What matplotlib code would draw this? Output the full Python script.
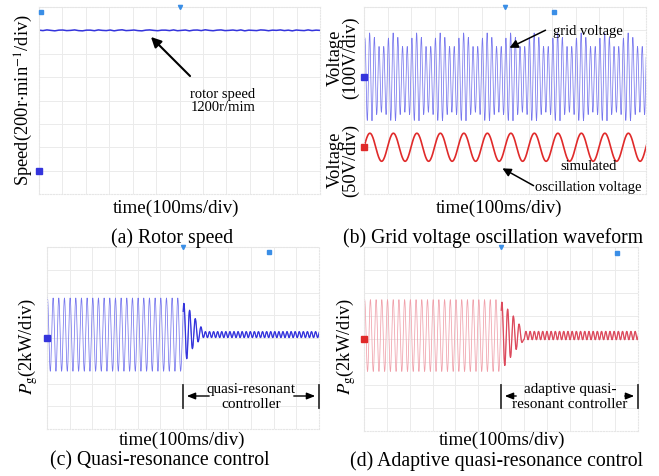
import matplotlib
matplotlib.use('Agg')
import matplotlib.pyplot as plt
import numpy as np

W, H = 659, 477

# ---- data, in oscilloscope divisions (12 x 8 screen) ----
# (a) rotor speed: level and ripple
speed_level = 7.0
speed_ripple = [0.01, -0.01, 0.02, 0.0, -0.02, 0.01, 0.015, -0.01, 0.0, 0.02,
                -0.01, -0.02, 0.01, 0.01, -0.015, 0.02, 0.0, -0.01, 0.015, -0.02,
                0.01, 0.025, -0.01, 0.0, 0.015, -0.01, -0.02, 0.01, 0.02, 0.0,
                -0.015, 0.01, 0.01, -0.01, 0.02, -0.015, 0.0, 0.015, -0.02, 0.01,
                0.015, -0.01, 0.025, 0.0, -0.015, 0.01, 0.02, -0.01, 0.0, 0.015,
                -0.01, 0.02, -0.02, 0.01, 0.0, -0.01, 0.02, 0.01, -0.015, 0.01,
                0.0, 0.02, -0.01, 0.01, -0.02, 0.015, 0.0, -0.01, 0.02, -0.01,
                0.01, 0.0]

# (b) grid voltage: peaks / troughs over one beat (repeats every division)
grid_center = 5.0
grid_peaks = [1.67, 1.89, 1.70, 1.31, 1.31]
grid_troughs = [-1.85, -1.85, -1.6, -1.5, -1.6]
grid_half = 0.1          # 50 Hz at 100 ms/div
grid_first = 0.04
# (b) simulated oscillation voltage
osc_center = 2.0
osc_amp = 0.6
osc_half = 0.5           # 10 Hz
osc_first = -0.25

# (c) quasi-resonant controller
qr_center = 4.15
qr_amp = 1.61
qr_half = 0.125
qr_first = 0.02
qr_switch = 6.04
qr_decay = [1.37, -1.06, 1.07, -0.62, 0.7, -0.32, 0.34]
qr_small_amp = 0.13
qr_small_half = 0.09
qr_small_start = 6.9

# (d) adaptive quasi-resonant controller
aqr_center = 4.15
aqr_amp = 1.56
aqr_half = 0.125
aqr_first = 0.03
aqr_switch = 6.04
aqr_decay = [1.45, -1.3, 1.15, -0.95, 0.85, -0.6, 0.5, -0.3]
aqr_small_amp = 0.18
aqr_small_half = 0.092
aqr_small_start = 7.0

BLUE = '#3434dc'
LBLUE = '#7777ee'
RED = '#e02a2a'
PINK = '#dc4a5c'

plt.rcParams['font.family'] = ['Liberation Serif', 'DejaVu Serif']
plt.rcParams['mathtext.fontset'] = 'stix'

FS_LAB = 13.7
FS_CAP = 14.2
FS_Y = 13.3


def wave(xpos, ext, center, n=10):
    """smooth trace through alternating extremes (half-cosine segments)"""
    xs, ys = [], []
    s = np.linspace(0, 1, n)
    for k in range(len(ext) - 1):
        a, b = ext[k], ext[k + 1]
        xs.append(xpos[k] + (xpos[k + 1] - xpos[k]) * s)
        ys.append(center + (a + b) / 2 + (a - b) / 2 * np.cos(np.pi * s))
    return np.concatenate(xs), np.concatenate(ys)


def fp(x, y):
    return x / W, 1 - y / H


def scope(l, t, r, b):
    ax = fig.add_axes([l / W, 1 - b / H, (r - l) / W, (b - t) / H])
    ax.set_xlim(0, 12)
    ax.set_ylim(0, 8)
    ax.set_xticks(range(13))
    ax.set_yticks(range(9))
    ax.grid(True, color='#ebebeb', lw=0.7)
    ax.set_axisbelow(True)
    ax.tick_params(length=0, labelbottom=False, labelleft=False)
    for sp in ax.spines.values():
        sp.set_color('#e6e6e6')
        sp.set_linestyle((0, (1, 1.5)))
        sp.set_linewidth(0.8)
    return ax


def marks(ax, gnd, color, dot):
    for y, c in zip(gnd, color):
        ax.plot(0, y, marker='s', ms=4, color=c, clip_on=False, zorder=5)
    ax.plot(6, 8, marker='v', ms=3, color='#3a8ee6', clip_on=False, zorder=5)
    ax.plot(dot[0], dot[1], marker='s', ms=3, color='#3a8ee6', clip_on=False, zorder=5)


fig = plt.figure(figsize=(W / 100, H / 100), dpi=100)

# ---------------- (a) ----------------
ax = scope(39, 8, 320, 195)
xs = np.linspace(0, 12, len(speed_ripple))
ax.plot(xs, speed_level + np.array(speed_ripple), color=BLUE, lw=1.1)
marks(ax, [1.0], [BLUE], (0.1, 7.8))
fig.text(*fp(24, 100), r'Speed(200r$\cdot$min$^{-1}$/div)', rotation=90,
         ha='center', va='center', fontsize=FS_Y)
fig.text(*fp(176, 208), 'time(100ms/div)', ha='center', va='center', fontsize=FS_LAB)
fig.text(*fp(172, 238), '(a) Rotor speed', ha='center', va='center', fontsize=FS_CAP)
fig.text(*fp(223, 101), 'rotor speed\n1200r/mim', ha='center', va='center',
         fontsize=10.5, linespacing=1.0)
fig.add_artist(matplotlib.patches.FancyArrowPatch(
    fp(192, 79), fp(149, 36), transform=fig.transFigure,
    arrowstyle='-|>,head_length=6,head_width=3', color='black', lw=1.5))

# ---------------- (b) ----------------
ax = scope(364, 8, 646, 195)
n_g = int(12 / grid_half) + 2
ext = []
for k in range(n_g):
    if k % 2 == 0:
        ext.append(grid_peaks[(k // 2) % 5])
    else:
        ext.append(grid_troughs[(k // 2) % 5])
gx = grid_first + grid_half * np.arange(n_g)
x, y = wave(gx, ext, grid_center)
ax.plot(x, y, color=LBLUE, lw=0.55)
n_o = int(12 / osc_half) + 3
ox = osc_first + osc_half * np.arange(n_o)
oext = [(-osc_amp if k % 2 == 0 else osc_amp) for k in range(n_o)]
x, y = wave(ox, oext, osc_center, n=24)
ax.plot(x, y, color=RED, lw=1.2)
marks(ax, [grid_center, osc_center], [BLUE, RED], (8.1, 7.8))
fig.text(*fp(335, 58), 'Voltage', rotation=90, ha='center', va='center', fontsize=FS_Y)
fig.text(*fp(351, 58), '(100V/div)', rotation=90, ha='center', va='center', fontsize=FS_Y)
fig.text(*fp(335, 160), 'Voltage', rotation=90, ha='center', va='center', fontsize=FS_Y)
fig.text(*fp(351, 160), '(50V/div)', rotation=90, ha='center', va='center', fontsize=FS_Y)
fig.text(*fp(499, 208), 'time(100ms/div)', ha='center', va='center', fontsize=FS_LAB)
fig.text(*fp(493, 238), '(b) Grid voltage oscillation waveform', ha='center',
         va='center', fontsize=FS_CAP)
fig.text(*fp(588, 32), 'grid voltage', ha='center', va='center', fontsize=10.5)
fig.text(*fp(589, 167), 'simulated', ha='center', va='center', fontsize=10.5)
fig.text(*fp(588, 188), 'oscillation voltage', ha='center', va='center', fontsize=10.5)
fig.add_artist(matplotlib.patches.FancyArrowPatch(
    fp(548, 30), fp(507, 50), transform=fig.transFigure,
    arrowstyle='-|>,head_length=5,head_width=2.5', color='black', lw=1.1))
fig.add_artist(matplotlib.patches.FancyArrowPatch(
    fp(536, 188), fp(500, 168), transform=fig.transFigure,
    arrowstyle='-|>,head_length=5,head_width=2.5', color='black', lw=1.1))


# ---------------- (c) / (d) ----------------
def damped(first, half, amp, switch, decay, s_start, s_half, s_amp, center):
    n_big = int((switch - first) / half / 2) * 2
    px = list(first + half * np.arange(n_big))
    pe = [(amp if k % 2 == 0 else -amp) for k in range(n_big)]
    px += list(switch + half * np.arange(len(decay)))
    pe += decay
    n_s = int((12.2 - s_start) / s_half)
    px += list(s_start + s_half * np.arange(n_s))
    pe += [(-s_amp if k % 2 == 0 else s_amp) for k in range(n_s)]
    return wave(px, pe, center)


def span(ax_l, ax_r, y_top, y_bot, y_arr, txt, tx, ty, a_l, a_r):
    for xx in (ax_l, ax_r):
        fig.add_artist(matplotlib.lines.Line2D([xx / W, xx / W],
                       [1 - y_top / H, 1 - y_bot / H], color='#333333', lw=1.3))
    fig.add_artist(matplotlib.patches.FancyArrowPatch(
        fp(a_l, y_arr), fp(ax_l + 1, y_arr), transform=fig.transFigure,
        arrowstyle='-|>,head_length=5,head_width=2', color='black', lw=1.0))
    fig.add_artist(matplotlib.patches.FancyArrowPatch(
        fp(a_r, y_arr), fp(ax_r - 1, y_arr), transform=fig.transFigure,
        arrowstyle='-|>,head_length=5,head_width=2', color='black', lw=1.0))
    fig.text(*fp(tx, ty), txt, ha='center', va='center', fontsize=11,
             linespacing=1.2)


ax = scope(47, 248, 319, 430)
x, y = damped(qr_first, qr_half, qr_amp, qr_switch, qr_decay, qr_small_start,
              qr_small_half, qr_small_amp, qr_center)
big = x < 6.0
ax.plot(x, y, color=LBLUE, lw=0.55)
ax.plot(x[~big], y[~big], color=BLUE, lw=0.9)
marks(ax, [4.0], [BLUE], (9.8, 7.78))
fig.text(*fp(28, 347), r'$P_{\rm g}$(2kW/div)', rotation=90, ha='center',
         va='center', fontsize=FS_Y)
fig.text(*fp(182, 440), 'time(100ms/div)', ha='center', va='center', fontsize=FS_LAB)
fig.text(*fp(160, 461), '(c) Quasi-resonance control', ha='center', va='center',
         fontsize=FS_CAP)
span(183, 319, 386, 409, 397, 'quasi-resonant\ncontroller', 251, 397, 212, 291)

ax = scope(364, 248, 638, 432)
x, y = damped(aqr_first, aqr_half, aqr_amp, aqr_switch, aqr_decay, aqr_small_start,
              aqr_small_half, aqr_small_amp, aqr_center)
big = x < 6.0
ax.plot(x, y, color='#f0a0aa', lw=0.55)
ax.plot(x[~big], y[~big], color=PINK, lw=0.9)
marks(ax, [4.0], [RED], (11.1, 7.75))
fig.text(*fp(346, 347), r'$P_{\rm g}$(2kW/div)', rotation=90, ha='center',
         va='center', fontsize=FS_Y)
fig.text(*fp(502, 440), 'time(100ms/div)', ha='center', va='center', fontsize=FS_LAB)
fig.text(*fp(497, 461), '(d) Adaptive quasi-resonance control', ha='center',
         va='center', fontsize=FS_CAP)
span(501, 638, 386, 409, 397, 'adaptive quasi-\nresonant controller', 570, 397, 519, 622)

fig.savefig('out.png', dpi=100)
